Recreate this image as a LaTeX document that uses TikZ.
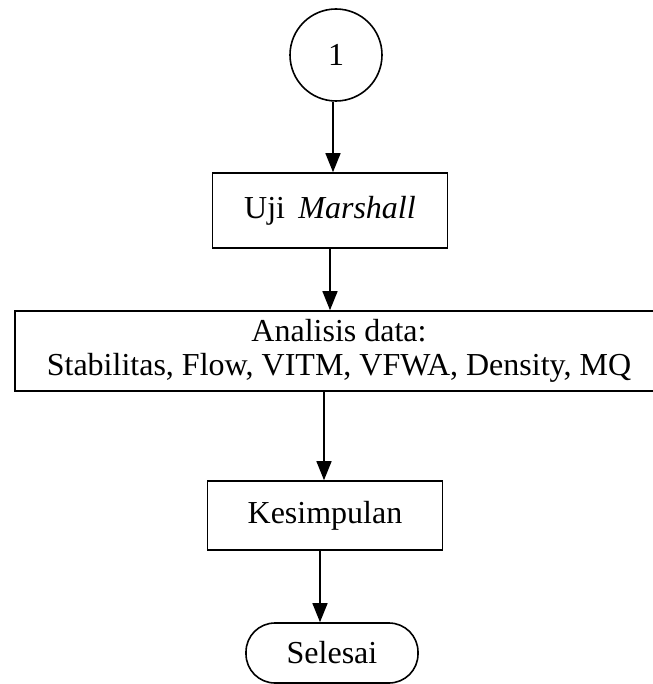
\documentclass[tikz,border=0pt]{standalone}
\usepackage{fontspec}
\setmainfont{Liberation Serif}
\usetikzlibrary{arrows.meta}
\begin{document}
\begin{tikzpicture}[x=1pt,y=-1pt,
  box/.style={draw,line width=1.6pt,rectangle,inner sep=0pt,font=\fontsize{32}{34}\selectfont},
  flow/.style={draw,line width=1.4pt,-{Triangle[length=19pt,width=15pt]}}]
\useasboundingbox (0,0) rectangle (652,684);
\node[draw,circle,line width=1.6pt,minimum size=92pt,inner sep=0pt,font=\fontsize{32}{34}\selectfont] (c) at (336,55) {1};
\node[box,minimum width=235pt,minimum height=75pt] (u) at (330,210.5) {Uji\, \textit{Marshall}};
\node[box,minimum width=648pt,minimum height=80pt,align=center] (a) at (339,351) {Analisis data:\\Stabilitas, Flow, VITM, VFWA, Density, MQ};
\node[box,minimum width=235pt,minimum height=69pt] (k) at (325,515.5) {Kesimpulan};
\node[box,rounded corners=29pt,minimum width=172pt,minimum height=60pt] (s) at (332,653) {Selesai};
\draw[flow] ([xshift=-3pt]c.south) -- ([xshift=-3pt]c.south |- u.north);
\draw[flow] (u.south) -- (u.south |- a.north);
\draw[flow] ([xshift=-15pt]a.south) -- ([xshift=-15pt]a.south |- k.north);
\draw[flow] ([xshift=-5pt]k.south) -- ([xshift=-5pt]k.south |- s.north);
\end{tikzpicture}
\end{document}
